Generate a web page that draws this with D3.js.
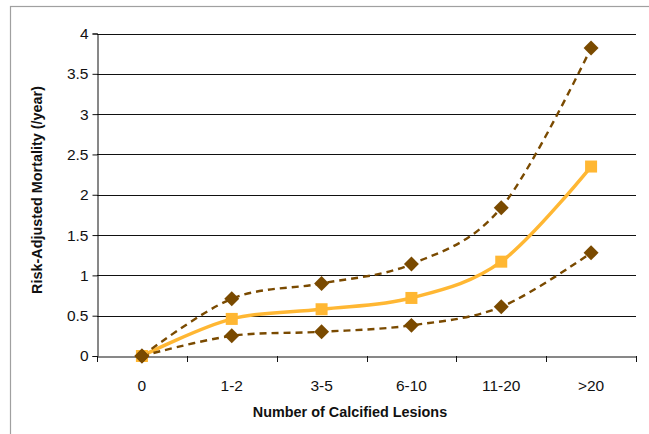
<!DOCTYPE html>
<html><head><meta charset="utf-8">
<script src="https://cdn.jsdelivr.net/npm/d3@7"></script>
<style>body{margin:0;background:#fff}svg{display:block;font-family:"Liberation Sans",Arial,sans-serif}</style>
</head><body>
<svg id="c" width="649" height="434"></svg>
<script>
const categories = ["0","1-2","3-5","6-10","11-20",">20"];
const middle = [0, 0.46, 0.58, 0.72, 1.17, 2.35];
const upper  = [0, 0.71, 0.90, 1.14, 1.84, 3.82];
const lower  = [0, 0.25, 0.30, 0.38, 0.61, 1.28];
const yTicks = [0, 0.5, 1, 1.5, 2, 2.5, 3, 3.5, 4];
const yTickLabels = ["0","0.5","1","1.5","2","2.5","3","3.5","4"];
const xTitle = "Number of Calcified Lesions";
const yTitle = "Risk-Adjusted Mortality (/year)";

const svg = d3.select("#c");
// outer frame
svg.append("rect").attr("x",10.5).attr("y",6.5).attr("width",700).attr("height",500)
  .attr("fill","none").attr("stroke","#a0a0a0").attr("stroke-width",1.2);

const x = d3.scaleBand().domain(categories).range([97,636]);
const y = d3.scaleLinear().domain([0,4]).range([356,33.5]);

// gridlines
svg.append("g").selectAll("line").data(yTicks.filter(d=>d>0)).join("line")
  .attr("x1",97).attr("x2",636).attr("y1",d=>Math.round(y(d))+0.5).attr("y2",d=>Math.round(y(d))+0.5)
  .attr("stroke","#111").attr("stroke-width",1.2);

// y axis
const ya = svg.append("g").attr("transform","translate(97.5,0)")
  .call(d3.axisLeft(y).tickValues(yTicks).tickFormat((d,i)=>yTickLabels[i]).tickSize(5).tickPadding(4));
ya.select(".domain").attr("stroke","#111");
ya.selectAll(".tick line").attr("stroke","#111");
ya.selectAll("text").attr("font-size",15.5).attr("fill","#111").attr("font-family","Liberation Sans, Arial");

// x axis
const xa = svg.append("g").attr("transform","translate(0,356.5)")
  .call(d3.axisBottom(x).tickSize(0).tickPadding(0));
xa.select(".domain").attr("stroke","#111");
xa.selectAll(".tick text").attr("font-size",15.5).attr("fill","#111").attr("y",23)
  .attr("font-family","Liberation Sans, Arial");
// category boundary ticks
const bounds = categories.map(c=>x(c)).concat([x.range()[1]]);
svg.append("g").selectAll("line").data(bounds).join("line")
  .attr("x1",d=>Math.round(d)+0.5).attr("x2",d=>Math.round(d)+0.5).attr("y1",356).attr("y2",362)
  .attr("stroke","#111");

// titles
svg.append("text").attr("x",350).attr("y",417).attr("text-anchor","middle")
  .attr("font-size",14.4).attr("font-weight","bold").attr("fill","#111").text(xTitle);
svg.append("text").attr("transform","translate(42,190) rotate(-90)").attr("text-anchor","middle")
  .attr("font-size",14.4).attr("font-weight","bold").attr("fill","#111").text(yTitle);

const cx = (d,i)=>x(categories[i])+x.bandwidth()/2;
const line = d3.line().x(cx).y(d=>y(d)).curve(d3.curveCatmullRom.alpha(0));

const brown = "#7a4a00", orange = "#ffb733";
svg.append("path").datum(middle).attr("d",line).attr("fill","none").attr("stroke",orange).attr("stroke-width",3.5);
[upper, lower].forEach(s=>{
  svg.append("path").datum(s).attr("d",line).attr("fill","none").attr("stroke",brown)
    .attr("stroke-width",2.4).attr("stroke-dasharray","7,5");
});
svg.append("g").selectAll("rect").data(middle).join("rect")
  .attr("x",(d,i)=>cx(d,i)-6).attr("y",d=>y(d)-6).attr("width",12).attr("height",12).attr("fill",orange);
[upper, lower].forEach(s=>{
  svg.append("g").selectAll("path").data(s).join("path")
    .attr("d",d3.symbol().type(d3.symbolSquare).size(112))
    .attr("transform",(d,i)=>`translate(${cx(d,i)},${y(d)}) rotate(45)`)
    .attr("fill",brown);
});
</script>
</body></html>
